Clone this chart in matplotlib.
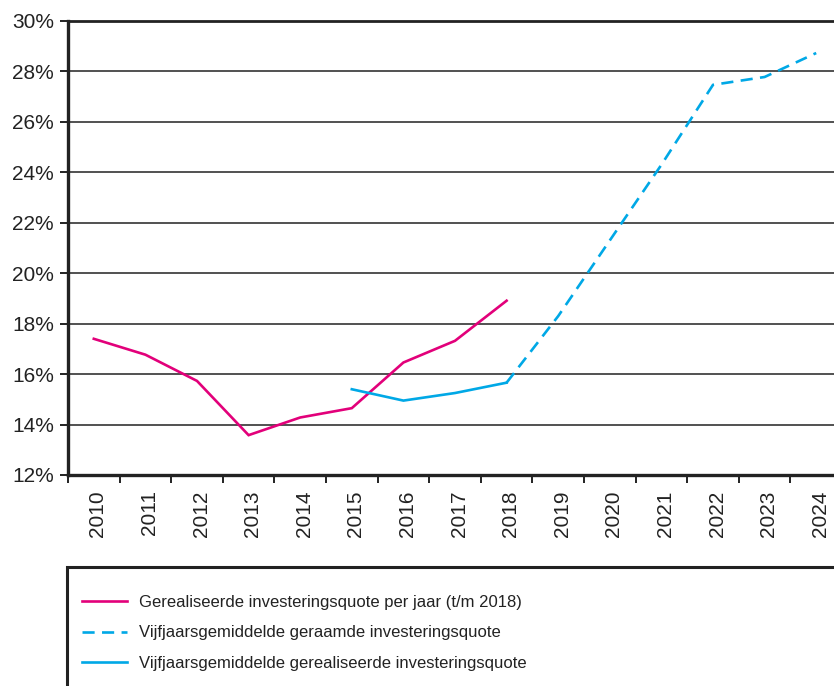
import numpy as np
import matplotlib
matplotlib.use("Agg")

import matplotlib.pyplot as plt
from matplotlib import font_manager
from matplotlib.lines import Line2D
from matplotlib.patches import Rectangle
from matplotlib.transforms import ScaledTranslation


years = [str(y) for y in range(2010, 2025)]

# Gerealiseerde investeringsquote per jaar, 2010 t/m 2018 (%)
realised_yearly = [17.40, 16.77, 15.73, 13.58, 14.28, 14.65, 16.46, 17.32, 18.91]
# Vijfjaarsgemiddelde gerealiseerd, 2015 t/m 2018 (%)
five_year_realised = [15.40, 14.95, 15.25, 15.66]
# Vijfjaarsgemiddelde geraamd, 2018 t/m 2024 (%)
five_year_forecast = [15.66, 18.30, 21.30, 24.30, 27.47, 27.78, 28.73]

y_ticks = [12, 14, 16, 18, 20, 22, 24, 26, 28, 30]

MAGENTA = "#E2007A"
BLUE = "#00A8E6"
DARK = "#222222"


def pick_font(names):
    have = {f.name for f in font_manager.fontManager.ttflist}
    for n in names:
        if n in have:
            return n
    return "DejaVu Sans"


main_font = pick_font(["Liberation Sans", "Arial"])
legend_font = pick_font(["Liberation Sans Narrow", "Liberation Sans"])
plt.rcParams["font.family"] = main_font

fig = plt.figure(figsize=(8.34, 6.86), dpi=100)
W, H = 834, 686

# axes run past the right edge of the picture, like the reference crop
ax = fig.add_axes([68 / W, (H - 475) / H, 774 / W, 454 / H])

x_yearly = np.arange(len(realised_yearly))
x_real5 = np.arange(5, 5 + len(five_year_realised))
x_fc5 = np.arange(8, 8 + len(five_year_forecast))

ax.plot(x_yearly, realised_yearly, color=MAGENTA, lw=1.9, solid_joinstyle="miter",
        label="Gerealiseerde investeringsquote per jaar (t/m 2018)", zorder=3)
ax.plot(x_fc5, five_year_forecast, color=BLUE, lw=1.9, ls=(0, (4.6, 2.8)),
        label="Vijfjaarsgemiddelde geraamde investeringsquote", zorder=3)
ax.plot(x_real5, five_year_realised, color=BLUE, lw=1.9, solid_joinstyle="miter",
        label="Vijfjaarsgemiddelde gerealiseerde investeringsquote", zorder=3)

ax.set_xlim(-0.5, 14.5)
ax.set_ylim(12, 30)

ax.set_yticks(y_ticks)
ax.set_yticklabels([f"{v}%" for v in y_ticks])
for v in y_ticks[1:]:
    ax.axhline(v, color=DARK, lw=1.1, zorder=1)

# year labels sit between the boundary ticks
ax.set_xticks(np.arange(-0.5, 15, 1))
ax.set_xticklabels([])
ax.set_xticks(np.arange(len(years)), minor=True)
ax.set_xticklabels(years, minor=True, rotation=90, fontsize=15, va="top", ha="center")
ax.tick_params(axis="x", which="minor", length=0, pad=11, labelcolor=DARK)
ax.tick_params(axis="x", which="major", length=6, width=1.4, color=DARK, direction="out")
ax.tick_params(axis="y", length=6, width=1.4, color=DARK, labelsize=15, pad=4,
               labelcolor=DARK)

offset = ScaledTranslation(4 / 100, 0, fig.dpi_scale_trans)
for lab in ax.get_xticklabels(minor=True):
    lab.set_transform(lab.get_transform() + offset)

for side in ["left", "bottom"]:
    ax.spines[side].set_linewidth(2.4)
    ax.spines[side].set_color(DARK)
ax.spines["top"].set_linewidth(2.0)
ax.spines["top"].set_color(DARK)
ax.spines["right"].set_visible(False)

# legend box, cut off at the right and bottom of the picture
fig.patches.append(Rectangle((67 / W, -0.2), 1.0, 0.2 + (H - 567) / H,
                             transform=fig.transFigure, fill=False,
                             lw=2.2, ec=DARK, zorder=0))

handles = [
    Line2D([], [], color=MAGENTA, lw=1.9),
    Line2D([], [], color=BLUE, lw=1.9, ls=(0, (4.6, 2.8))),
    Line2D([], [], color=BLUE, lw=1.9),
]
labels = [
    "Gerealiseerde investeringsquote per jaar (t/m 2018)",
    "Vijfjaarsgemiddelde geraamde investeringsquote",
    "Vijfjaarsgemiddelde gerealiseerde investeringsquote",
]
fig.legend(handles, labels, loc="upper left",
           bbox_to_anchor=(82 / W, (H - 595) / H),
           frameon=False, handlelength=2.7, handletextpad=0.72,
           labelspacing=0.93, borderaxespad=0, borderpad=0,
           prop={"family": legend_font, "size": 12}, labelcolor=DARK)

fig.savefig("out.png", dpi=100)
